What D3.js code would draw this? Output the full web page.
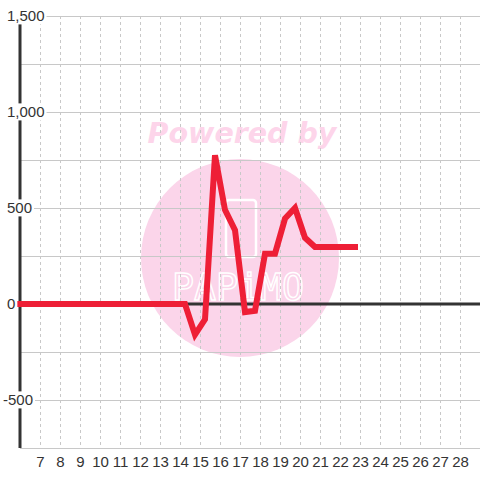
<!DOCTYPE html>
<html lang='en'>
<head>
  <meta charset='UTF-8'>
  <title>Chart</title>
  <style type='text/css'>
    body {
      margin: 0;
      background: #fff;
    }
    svg text {
      font-family: 'Liberation Sans', Arial, sans-serif;
      fill: #333;
    }
  </style>
  <script type='text/javascript' src='https://cdnjs.cloudflare.com/ajax/libs/d3/7.8.5/d3.min.js'></script>
</head>
<body>
  <script type='text/javascript'>
    // hours of the day (x) and values (y)
    const hours = [6, 6.25, 6.75, 7.25, 7.75, 8.25, 8.75, 9.25, 9.75, 10.25, 10.75, 11.25, 11.75,
      12.25, 12.75, 13.25, 13.75, 14.25, 14.75, 15.25, 15.75, 16.25, 16.75, 17.25, 17.75,
      18.25, 18.75, 19.25, 19.75, 20.25, 20.75, 21.25, 21.75, 22.25, 22.75]
    const values = [0, 0, 0, 0, 0, 0, 0, 0, 0, 0, 0, 0, 0,
      0, 0, 0, 0, 0, -160, -80, 775, 490, 385, -42, -35,
      262, 262, 445, 500, 345, 297, 297, 297, 297, 297]
    const xTicks = d3.range(7, 29)
    const yTicks = [-500, 0, 500, 1000, 1500]
    const yGrid = [-750, -500, -250, 0, 250, 500, 750, 1000, 1250, 1500]

    const width = 480
    const height = 480
    const margin = {top: 16, right: 0, bottom: 32, left: 20}

    const svg = d3.select('body').append('svg')
      .attr('width', width)
      .attr('height', height)

    const xScale = d3.scaleLinear().domain([6, 29]).range([margin.left, width - margin.right])
    const yScale = d3.scaleLinear().domain([-750, 1500]).range([height - margin.bottom, margin.top])

    // watermark
    const wm = svg.append('g').attr('class', 'watermark')
    wm.append('circle')
      .attr('cx', 240).attr('cy', 258).attr('r', 99)
      .style('fill', '#fbd5ea')
    wm.append('text')
      .attr('x', 242).attr('y', 143)
      .attr('text-anchor', 'middle')
      .style('font-family', "'DejaVu Sans', sans-serif")
      .style('font-size', '28.5px')
      .style('font-weight', 'bold')
      .style('font-style', 'italic')
      .style('fill', '#fdd5ea')
      .text('Powered by')
    wm.append('rect')
      .attr('x', 226).attr('y', 200).attr('width', 30).attr('height', 57).attr('rx', 3)
      .style('fill', 'none').style('stroke', '#fff').style('stroke-width', 2.5)
    wm.append('text')
      .attr('x', 172).attr('y', 300)
      .attr('textLength', 132)
      .attr('lengthAdjust', 'spacingAndGlyphs')
      .style('font-family', "'DejaVu Sans Mono', monospace")
      .style('font-size', '38px')
      .style('font-weight', '200')
      .style('fill', 'none')
      .style('stroke', '#fff')
      .style('stroke-width', 1.5)
      .text('PAPiMO')

    // grid
    svg.append('g').selectAll('line')
      .data(xTicks)
      .enter().append('line')
      .attr('x1', d => xScale(d) + 0.5).attr('x2', d => xScale(d) + 0.5)
      .attr('y1', yScale(1500)).attr('y2', yScale(-750))
      .style('stroke', '#c8c8c8')
      .style('stroke-dasharray', '3,3')

    svg.append('g').selectAll('line')
      .data(yGrid)
      .enter().append('line')
      .attr('x1', margin.left).attr('x2', width)
      .attr('y1', d => yScale(d) + 0.5).attr('y2', d => yScale(d) + 0.5)
      .style('stroke', '#c8c8c8')

    // zero line and y axis line
    svg.append('line')
      .attr('x1', margin.left).attr('x2', width)
      .attr('y1', yScale(0)).attr('y2', yScale(0))
      .style('stroke', '#333').style('stroke-width', 3)
    svg.append('line')
      .attr('x1', margin.left).attr('x2', margin.left)
      .attr('y1', yScale(1500)).attr('y2', yScale(-750))
      .style('stroke', '#333').style('stroke-width', 3)

    // the series
    const line = d3.line()
      .x((d, i) => xScale(hours[i]))
      .y(d => yScale(d))
    svg.append('path')
      .datum(values)
      .attr('d', line)
      .style('fill', 'none')
      .style('stroke', '#ee1f36')
      .style('stroke-width', 6)
      .style('stroke-linejoin', 'miter')
      .style('stroke-linecap', 'square')

    // y labels with white boxes
    const fmt = d3.format(',')
    const yLab = svg.append('g').selectAll('g')
      .data(yTicks)
      .enter().append('g')
    yLab.append('rect')
    yLab.append('text')
      .attr('x', d => d < 0 ? 3 : 7)
      .attr('y', d => yScale(d))
      .attr('dy', '0.36em')
      .style('font-size', '15px')
      .text(d => fmt(d).replace('−', '-'))
    yLab.each(function() {
      const g = d3.select(this)
      const b = g.select('text').node().getBBox()
      g.select('rect')
        .attr('x', b.x - 1).attr('y', b.y)
        .attr('width', b.width + 3).attr('height', b.height)
        .style('fill', '#fff')
    })

    // x labels
    svg.append('g').selectAll('text')
      .data(xTicks)
      .enter().append('text')
      .attr('x', d => xScale(d) + 0.5)
      .attr('y', 467)
      .attr('text-anchor', 'middle')
      .style('font-size', '15px')
      .text(d => d)
  </script>
</body>
</html>
